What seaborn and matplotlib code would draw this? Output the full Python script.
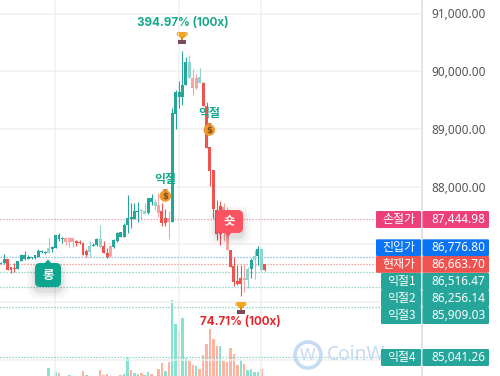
import numpy as np
import pandas as pd
import matplotlib
matplotlib.use("Agg")
import matplotlib.pyplot as plt
from matplotlib.patches import FancyBboxPatch, Circle, Polygon, Rectangle, Wedge
import seaborn as sns

# ---------- data ----------
opens = [86665,86671,86740,86601,86595,86572,86711,86740,86752,86757,86763,86786,86861,86850,86850,86925,86936,87087,87098,87116,
         87116,87116,87052,87046,87029,86879,86867,86977,86983,86948,86965,86855,86965,86948,87052,87127,87127,87335,87445,87434,
         87566,87572,87532,87538,87728,87665,87676,87572,87463,87463,87393,89260,89561,89561,89763,89879,89879,89879,89792,89798,
         89393,88682,88289,87601,87660,87640,87185,86908,86619,86364,86422,86422,86376,86572,86734,86798,86549,86653]
closes = [86682,86740,86555,86555,86578,86717,86821,86815,86780,86775,86809,86879,86879,86873,86931,86954,87156,87156,87116,87035,
          87035,87041,87029,87029,86809,86809,86977,86994,87098,87098,86850,86786,86792,87069,87202,87214,87341,87463,87474,87578,
          87578,87595,87584,87798,87798,87734,87549,87370,87364,87388,89272,89636,89636,89763,90156,90156,89705,89705,89896,89393,
          88676,88277,87613,87185,87185,87220,86896,86607,86347,86318,86318,86376,86572,86734,86803,86925,86925,86555]
highs = [86694,86827,86740,86601,86671,86717,86832,86879,86809,86786,86821,86913,86902,86890,87104,86971,87156,87191,87133,87133,
         87127,87121,87069,87069,87041,86913,87064,87017,87110,87330,87052,86942,86994,87087,87214,87214,87376,87850,87711,87711,
         87728,87607,87711,87798,87867,87780,87885,87723,87619,87578,89364,89682,89838,90358,90243,90283,90040,89954,90052,89810,
         89462,88682,88289,87763,87757,87711,87640,86908,86780,86636,86647,86647,86607,86769,86896,86965,86936,86653]
lows = [86659,86653,86555,86503,86520,86572,86711,86728,86740,86752,86740,86775,86844,86832,86850,86867,86931,87058,87017,86983,
        86948,86948,86971,87000,86809,86780,86786,86971,86971,86931,86844,86757,86786,86936,87046,87121,87121,87202,87289,87434,
        87393,87422,87532,87532,87676,87595,87480,87318,87318,87087,87393,89000,89358,89416,89763,89879,89590,89694,89792,89393,
        88676,88017,87457,87069,86983,87050,86896,86607,86272,86289,86098,86173,86249,86422,86399,86636,86538,86538]
faded = [0,0,0,0,0,0,0,0,0,0,0,0,0,0,1,0,0,0,0,1,1,1,0,0,0,0,1,0,0,1,0,0,1,0,0,0,0,0,0,0,0,1,1,0,0,1,1,0,0,1,
         0,0,0,0,0,1,1,1,1,0,0,0,0,0,0,1,1,0,0,0,0,1,1,0,1,0,1,0]
volume = [0,0,0,0,0,0,0,0,0,0,0,0,0,0,8,0,4.3,2.7,0,0,1,0,0,0,5,1,0,0,0,6,1,2,0,0,0,1,2,18.3,6,3.3,
          2,3,1.3,4.3,2,0,7,13.3,5,14,76,52,44,58,18.3,15,11,10,7,21,32,47,37,30,30,15,14,28,22,11,16,12,6,7,4,4,7,0]
volume_up = [14,16,20,25,36,37,39,40,42,43,48,50,51,53,54,57,64,70,72,73,74,75]

y_ticks = [85000,86000,87000,88000,89000,90000,91000]
y_tick_labels = ["","","","88,000.00","89,000.00","90,000.00","91,000.00"]
level_prices = [87444.98,86776.80,86663.70,86516.47,86256.14,85909.03,85041.26]
level_names = ["손절가","진입가","현재가","익절1","익절2","익절3","익절4"]
level_texts = ["87,444.98","86,776.80","86,663.70","86,516.47","86,256.14","85,909.03","85,041.26"]
win_label = "394.97% (100x)"
loss_label = "74.71% (100x)"
take_label = "익절"
long_label = "롱"
short_label = "숏"
watermark = "CoinW"

# ---------- styles ----------
sns.set_theme(style="white")
plt.rcParams['font.family'] = ['Noto Sans CJK KR', 'DejaVu Sans']
UP, DOWN, UP_F, DOWN_F = "#26a69a", "#ef5350", "#8fd4cd", "#f7a3a1"
VOL_UP, VOL_DOWN = "#86e3cf", "#ffb3a0"
TEAL_TXT, RED_TXT = "#14a88c", "#e5252a"
GRID = "#f0f0f0"
level_line = ["#e995af","#6fb0e8","#ee8a88","#7acac2","#7acac2","#7acac2","#7acac2"]
level_box = ["#ec407a","#0a74f5","#ef5350","#26a69a","#26a69a","#26a69a","#26a69a"]
box_top = [211,239.3,256,273,290,307,349]
box_h = [17,16.7,16.8,17,17,17,17]
box_left = [376,376,376,381,381,381,381]

W, H = 500, 376
fig = plt.figure(figsize=(W/100, H/100), dpi=100, facecolor="white")
ax = fig.add_axes([0, 0, 422/W, 1])
ax2 = ax.twinx()
ov = fig.add_axes([0, 0, 1, 1])
ov.set_xlim(0, W); ov.set_ylim(H, 0); ov.axis("off"); ov.patch.set_visible(False)
ax.set_zorder(2); ax.patch.set_visible(False)
ax2.set_zorder(1); ov.set_zorder(3)

# ---------- volume ----------
idx = np.arange(len(opens))
vdf = pd.DataFrame({"i": idx, "v": volume,
                    "d": ["up" if i in volume_up else "down" for i in idx]})
sns.barplot(data=vdf, x="i", y="v", hue="d", palette={"up": VOL_UP, "down": VOL_DOWN},
            native_scale=True, dodge=False, width=0.74, errorbar=None, legend=False,
            saturation=1, linewidth=0, ax=ax2)
ax2.set_ylim(0, H)
ax2.axis("off")

# ---------- candles ----------
o, c, hi, lo = map(np.array, (opens, closes, highs, lows))
up = c >= o
fd = np.array(faded, bool)
cols = np.where(up, np.where(fd, UP_F, UP), np.where(fd, DOWN_F, DOWN))
ax.vlines(idx, lo, hi, colors=cols, lw=0.8, zorder=3)
ax.bar(idx, np.maximum(np.abs(c - o), 12), bottom=np.minimum(o, c), width=0.86, color=cols, linewidth=0, zorder=4)

# ---------- axes ----------
ax.set_xlim(-0.7/3.43, (422-0.7)/3.43)
ax2.set_xlim(ax.get_xlim())
ax.set_ylim(91000-(H-13.5)*17.33, 91000+13.5*17.33)
ax.yaxis.tick_right()
ax.set_yticks(y_ticks, y_tick_labels, family="Noto Sans", fontsize=8.5, color="#555555")
ax.tick_params(axis="y", length=0, pad=7)
ax.set_xticks([(55-0.7)/3.43, (179-0.7)/3.43, (261-0.7)/3.43], [])
ax.tick_params(axis="x", length=0)
ax.grid(True, color=GRID, lw=1.1, zorder=0)
ax.set_axisbelow(True)
for s in ["top", "left", "bottom"]:
    ax.spines[s].set_visible(False)
ax.spines["right"].set_color("#dddddd"); ax.spines["right"].set_linewidth(1.1)
ax.set_ylabel(""); ax.set_xlabel("")

# ---------- price levels ----------
for p, col in zip(level_prices, level_line):
    ax.axhline(p, color=col, lw=0.9, ls=(0, (1, 1.4)), zorder=2)

# watermark (under label boxes)
wm = "#c4dbf2"
ov.add_patch(Circle((308, 355), 13, fc="none", ec=wm, lw=2.6, zorder=1))
ov.text(308, 356, "W", ha="center", va="center", color=wm, fontsize=12, fontweight="bold", family="Noto Sans", zorder=1)
ov.text(327, 355, watermark, ha="left", va="center", color=wm, fontsize=13.8, fontweight="bold", family="Noto Sans", zorder=1)

def rbox(x0, y0, x1, y1, col, r=1.5, z=5, a=1):
    ov.add_patch(FancyBboxPatch((x0+r, y0+r), x1-x0-2*r, y1-y0-2*r, boxstyle=f"round,pad={r},rounding_size={r}",
                                fc=col, ec="none", alpha=a, zorder=z, mutation_aspect=1))

for name, txt, col, t, h, l in zip(level_names, level_texts, level_box, box_top, box_h, box_left):
    rbox(l, t, 421, t+h, col, r=1.2)
    rbox(422.5, t, 489, t+h, col, r=1.2)
    ov.text((l+421)/2, t+h/2-0.3, name, ha="center", va="center", color="white", fontsize=8.6, fontweight="medium", zorder=6)
    ov.text(458.5, t+h/2-0.3, txt, ha="center", va="center", color="white", fontsize=8.5, fontweight="bold", family="Noto Sans", zorder=6)

# ---------- trade annotations ----------
ov.text(182.5, 23.5, win_label, ha="center", va="center", color=TEAL_TXT, fontsize=8.4, fontweight="bold", family="Inter", zorder=6)
ov.text(240.5, 322, loss_label, ha="center", va="center", color=RED_TXT, fontsize=8.4, fontweight="bold", family="Inter", zorder=6)

def trophy(x, y):
    ov.add_patch(Rectangle((x-3.6, y-6), 7.2, 3, fc="#f2a41f", ec="none", zorder=6))
    ov.add_patch(Wedge((x, y-3.2), 3.6, 0, 180, fc="#f2a41f", ec="none", zorder=6))
    ov.add_patch(Circle((x-3.6, y-4), 1.5, fc="none", ec="#eea92b", lw=0.8, zorder=6))
    ov.add_patch(Circle((x+3.6, y-4), 1.5, fc="none", ec="#eea92b", lw=0.8, zorder=6))
    ov.add_patch(Rectangle((x-0.9, y-1), 1.8, 2.5, fc="#d98c16", ec="none", zorder=6))
    ov.add_patch(Rectangle((x-4, y+2), 8, 4, fc="#7d4a5a", ec="none", zorder=6))

def moneybag(x, y, lab_y):
    ov.add_patch(Circle((x, y+1), 5.8, fc="#ef9a30", ec="none", zorder=6))
    ov.add_patch(Polygon([(x-2.6, y-6), (x+2.6, y-6), (x+1.4, y-3), (x-1.4, y-3)], fc="#d98a2b", ec="none", zorder=6))
    ov.text(x, y+1, "$", ha="center", va="center", color="#7a4a20", fontsize=6, fontweight="bold", family="DejaVu Sans", zorder=7)
    ov.text(x, lab_y, take_label, ha="center", va="center", color=TEAL_TXT, fontsize=8.6, fontweight="bold", zorder=7)

trophy(182.3, 38)
trophy(241, 308)
moneybag(165.3, 195, 179)
moneybag(209.3, 129, 113.5)

def shadow(x0, y0, x1, y1):
    for g, a in [(9, 0.012), (7, 0.018), (5, 0.022), (3, 0.03), (1.5, 0.04)]:
        rbox(x0-g, y0-g+4, x1+g, y1+g+4, "black", r=min(6+g, 10), z=4.5, a=a)

# long badge
shadow(35, 264, 61, 287)
rbox(35, 263, 61, 287, "#0ba68d", r=5, z=5)
ov.add_patch(Polygon([(44, 264), (48, 259.5), (52, 264)], fc="#0ba68d", ec="none", zorder=5))
ov.text(48, 275, long_label, ha="center", va="center", color="white", fontsize=9, fontweight="bold", zorder=6)
# short badge
shadow(216, 210, 243, 233)
rbox(216, 210, 243, 233, "#fb5361", r=5, z=5)
ov.add_patch(Rectangle((216, 226), 6, 7, fc="#fb5361", ec="none", zorder=5))
ov.add_patch(Polygon([(224, 232), (232, 232), (228, 237)], fc="#fb5361", ec="none", zorder=5))
ov.text(229.5, 221, short_label, ha="center", va="center", color="white", fontsize=9, fontweight="bold", zorder=6)

fig.savefig("out.png", dpi=100)
